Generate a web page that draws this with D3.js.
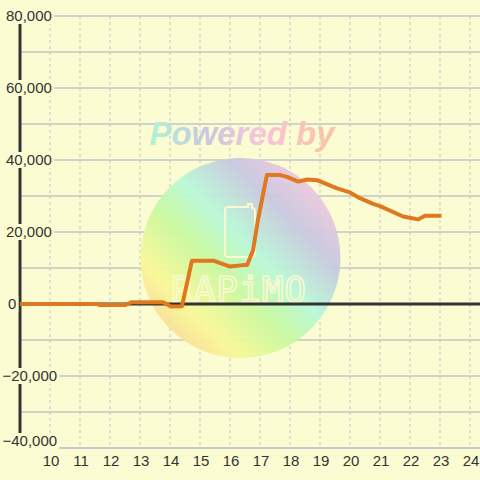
<!DOCTYPE html>
<html><head><meta charset="utf-8">
<script src="https://cdn.jsdelivr.net/npm/d3@7"></script>
<style>html,body{margin:0;padding:0;background:#fcfcd2;}svg{display:block;}</style>
</head><body>
<svg id="c" width="480" height="480"></svg>
<script>
const hours = [9.0, 11.57, 11.67, 12.5, 12.73, 13.77, 14.03, 14.4, 14.73, 15.47, 16.0, 16.43, 16.57, 16.77, 16.93, 17.23, 17.67, 17.9, 18.27, 18.57, 18.9, 19.57, 20.0, 20.33, 20.77, 21.0, 21.77, 22.27, 22.5, 23.05];
const values = [0, 0, -300, -300, 500, 500, -700, -600, 12000, 12000, 10400, 10800, 10800, 15000, 23300, 35800, 35800, 35300, 34000, 34600, 34400, 32100, 31000, 29400, 27800, 27200, 24300, 23500, 24500, 24500];
const xTicks = [10, 11, 12, 13, 14, 15, 16, 17, 18, 19, 20, 21, 22, 23, 24];
const yTicks = [80000, 60000, 40000, 20000, 0, -20000, -40000];
const yGrid = [80000, 70000, 60000, 50000, 40000, 30000, 20000, 10000, 0, -10000, -20000, -30000, -40000];

const svg = d3.select("#c");
const bg = "#fcfcd2";
const x = d3.scaleLinear().domain([9, 24.3333]).range([20, 480]);
const y = d3.scaleLinear().domain([-40000, 80000]).range([448, 16]);

svg.append("rect").attr("width", 480).attr("height", 480).attr("fill", bg);

// vertical dashed grid
svg.append("g").selectAll("line").data(xTicks).join("line")
  .attr("x1", d => x(d)).attr("x2", d => x(d))
  .attr("y1", y(80000)).attr("y2", y(-40000))
  .attr("stroke", "#c4c4cc").attr("stroke-width", 1).attr("stroke-dasharray", "3,3");

// horizontal grid
svg.append("g").selectAll("line").data(yGrid).join("line")
  .attr("x1", x(9)).attr("x2", 480)
  .attr("y1", d => y(d)).attr("y2", d => y(d))
  .attr("stroke", "#c4c4cc").attr("stroke-width", 1.5);

// watermark
const defs = svg.append("defs");
const g1 = defs.append("linearGradient").attr("id", "wm").attr("x1", "0").attr("y1", "1").attr("x2", "1").attr("y2", "0");
[["0", "#f8c098"], ["0.25", "#f8f898"], ["0.42", "#c8f8a0"], ["0.55", "#b8f8d8"], ["0.72", "#c8c8e0"], ["0.9", "#f8c8e0"], ["1", "#f8c8e0"]]
  .forEach(s => g1.append("stop").attr("offset", s[0]).attr("stop-color", s[1]));
const g2 = defs.append("linearGradient").attr("id", "wt").attr("x1", "0").attr("y1", "0").attr("x2", "1").attr("y2", "0");
[["0", "#b0f4d4"], ["0.3", "#c8c8e0"], ["0.6", "#f8c4dc"], ["1", "#f8c4a0"]]
  .forEach(s => g2.append("stop").attr("offset", s[0]).attr("stop-color", s[1]));

const wm = svg.append("g");
wm.append("circle").attr("cx", 240.5).attr("cy", 258).attr("r", 100).attr("fill", "url(#wm)").attr("opacity", 0.95);
wm.append("text").attr("x", 242).attr("y", 145).attr("text-anchor", "middle")
  .attr("font-family", "Liberation Sans, Arial, sans-serif").attr("font-weight", "bold").attr("font-style", "italic")
  .attr("font-size", 33).attr("fill", "url(#wt)").text("Powered by");
wm.append("path").attr("d", "M230,207 h18 v-3 h4 v4 q3,0 3,3 v43 q0,3 -3,3 h-24 q-3,0 -3,-3 v-44 q0,-3 3,-3 z")
  .attr("fill", "none").attr("stroke", "#fafad0").attr("stroke-width", 2);
wm.append("text").attr("x", 239).attr("y", 302).attr("text-anchor", "middle")
  .attr("font-family", "DejaVu Sans Mono, monospace").attr("font-size", 36).attr("letter-spacing", 1)
  .attr("fill", "none").attr("stroke", "#fafad0").attr("stroke-width", 1.6).text("RAPiMO");

// x axis line
svg.append("line").attr("x1", x(9)).attr("x2", 480).attr("y1", y(-40000)).attr("y2", y(-40000))
  .attr("stroke", "#c4c4cc").attr("stroke-width", 1.5);
// zero line
svg.append("line").attr("x1", x(9)).attr("x2", 480).attr("y1", y(0)).attr("y2", y(0))
  .attr("stroke", "#333333").attr("stroke-width", 3);
// y axis line
svg.append("line").attr("x1", x(9)).attr("x2", x(9)).attr("y1", y(80000)).attr("y2", y(-40000))
  .attr("stroke", "#333333").attr("stroke-width", 3);

// data line
const line = d3.line().x((d, i) => x(hours[i])).y(d => y(d));
svg.append("path").datum(values).attr("d", line)
  .attr("fill", "none").attr("stroke", "#e07820").attr("stroke-width", 4).attr("stroke-linejoin", "round");

// y labels with background
const fmt = d3.format(",");
const yl = svg.append("g").selectAll("g").data(yTicks).join("g");
yl.each(function(d) {
  const gg = d3.select(this);
  const cy = Math.min(y(d), 441);
  const lx = d < 0 ? 2.5 : (d === 0 ? 8 : 6);
  const t = gg.append("text").attr("x", lx).attr("y", cy).attr("dy", "0.36em").attr("text-anchor", "start")
    .attr("font-family", "Liberation Sans, Arial, sans-serif").attr("font-size", 15).attr("fill", "#333333").text(fmt(d));
  const b = t.node().getBBox();
  gg.insert("rect", "text").attr("x", b.x - 1).attr("y", cy - 8).attr("width", b.width + 3).attr("height", 16).attr("fill", bg);
});

// x labels
svg.append("g").selectAll("text").data(xTicks).join("text")
  .attr("x", d => x(d) + 1).attr("y", y(-40000) + 13).attr("dy", "0.36em").attr("text-anchor", "middle")
  .attr("font-family", "Liberation Sans, Arial, sans-serif").attr("font-size", 15).attr("fill", "#333333").text(d => d);
</script>
</body></html>
